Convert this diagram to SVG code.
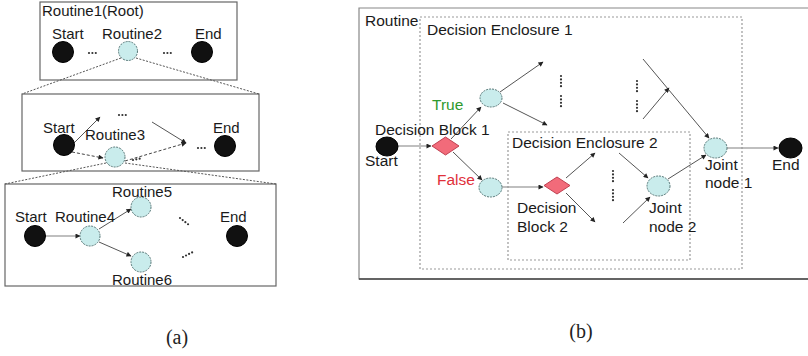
<svg xmlns="http://www.w3.org/2000/svg" width="808" height="356" viewBox="0 0 808 356">
<style>
text{font-family:"Liberation Sans",Arial,sans-serif;font-size:15px;fill:#1a1a1a}
.b text{font-size:15.5px}
.cap{font-family:"Liberation Serif","DejaVu Serif",serif;font-size:20px;fill:#222}
.frame{fill:none;stroke:#666;stroke-width:1.2}
.encl{fill:none;stroke:#999;stroke-width:1.2;stroke-dasharray:2,2}
.zoom{fill:none;stroke:#555;stroke-width:1;stroke-dasharray:2,1.5}
.blk{fill:#111;stroke:#000;stroke-width:1}
.node{fill:#c9ecec;stroke:#557777;stroke-width:1;stroke-dasharray:2,1}
.dia{fill:#f26b7a;stroke:#c04050;stroke-width:1}
.ln{fill:none;stroke:#555;stroke-width:1;marker-end:url(#ah)}
.lg{fill:none;stroke:#aaa;stroke-width:1.3;marker-end:url(#ah)}
.dl{fill:none;stroke:#444;stroke-width:1;stroke-dasharray:3,2;marker-end:url(#ah)}
.dots{fill:none;stroke:#333;stroke-width:2.2;stroke-linecap:round;stroke-dasharray:0,3.4}
</style>
<defs>
<marker id="ah" viewBox="0 0 10 10" refX="9" refY="5" markerWidth="6" markerHeight="5" markerUnits="userSpaceOnUse" orient="auto">
<path d="M0,0 L10,5 L0,10 z" fill="#222"/>
</marker>
</defs>

<!-- Panel (a) frames -->
<g id="a-frames">
<rect class="frame" x="40" y="2" width="197" height="78"/>
<rect class="frame" x="22" y="94" width="237" height="77" stroke="#888"/>
<rect class="frame" x="5" y="184" width="271" height="102"/>
<text x="42" y="16">Routine1(Root)</text>
</g>

<g id="connectors">
<!-- zoom lines -->
<line class="zoom" x1="121" y1="58" x2="22" y2="94"/>
<line class="zoom" x1="136" y1="58" x2="259" y2="94"/>
<line class="zoom" x1="106" y1="163" x2="5" y2="184"/>
<line class="zoom" x1="125" y1="163" x2="276" y2="184"/>
<!-- box 2 -->
<line class="ln" x1="72" y1="145" x2="100" y2="117"/>
<line class="ln" x1="152" y1="122" x2="186" y2="143"/>
<line class="dl" x1="72" y1="152" x2="103" y2="158"/>
<line class="dl" x1="125" y1="161" x2="186" y2="143"/>
<!-- box 3 -->
<line class="lg" x1="45" y1="236" x2="80" y2="236"/>
<line class="ln" x1="99" y1="229" x2="131" y2="209"/>
<line class="ln" x1="99" y1="242" x2="131" y2="256"/>
<!-- panel b -->
<line class="lg" x1="398" y1="146" x2="431" y2="146"/>
<line class="ln" x1="451" y1="139" x2="481" y2="107"/>
<line class="ln" x1="453" y1="152" x2="482" y2="180"/>
<line class="ln" x1="500" y1="92" x2="543" y2="62"/>
<line class="ln" x1="503" y1="103" x2="547" y2="125"/>
<line class="lg" x1="501" y1="187" x2="543" y2="187" stroke="#888"/>
<line class="ln" x1="566" y1="178" x2="595" y2="153"/>
<line class="ln" x1="566" y1="193" x2="595" y2="222"/>
<line class="ln" x1="619" y1="153" x2="648" y2="178"/>
<line class="ln" x1="623" y1="223" x2="650" y2="197"/>
<line class="ln" x1="668" y1="179" x2="706" y2="155"/>
<line class="ln" x1="643" y1="59" x2="709" y2="138"/>
<line class="ln" x1="643" y1="119" x2="669" y2="88"/>
<line class="lg" x1="727" y1="148" x2="778" y2="148"/>
</g>

<!-- box 1 nodes -->
<g id="a1-start"><circle class="blk" cx="63" cy="52" r="10.5"/><text x="52" y="39">Start</text></g>
<g id="a1-routine2"><circle class="node" cx="128" cy="51" r="9.5"/><text x="102" y="39">Routine2</text></g>
<g id="a1-end"><circle class="blk" cx="202" cy="52" r="10.5"/><text x="195" y="39">End</text></g>
<g id="a1-dots"><line class="dots" x1="89" y1="53" x2="99" y2="53" stroke-width="1.6" stroke-dasharray="0,3.5"/><line class="dots" x1="164" y1="53" x2="174" y2="53" stroke-width="1.6" stroke-dasharray="0,3.5"/></g>

<!-- box 2 nodes -->
<g id="a2-start"><circle class="blk" cx="64" cy="145" r="10.5"/><text x="43" y="133">Start</text></g>
<g id="a2-routine3"><circle class="node" cx="115" cy="157" r="10"/><text x="85" y="140">Routine3</text></g>
<g id="a2-end"><circle class="blk" cx="225" cy="146" r="10.5"/><text x="213" y="133">End</text></g>
<g id="a2-dots">
<line class="dots" x1="119" y1="115" x2="129" y2="115" stroke-width="1.6" stroke-dasharray="0,4"/>
<line class="dots" x1="133" y1="160" x2="143" y2="158" stroke-width="1.6" stroke-dasharray="0,4"/>
<line class="dots" x1="198" y1="148" x2="208" y2="148" stroke-width="2" stroke-dasharray="0,4.5"/>
</g>

<!-- box 3 nodes -->
<g id="a3-start"><circle class="blk" cx="35" cy="236" r="10.5"/><text x="15" y="222">Start</text></g>
<g id="a3-routine4"><circle class="node" cx="90" cy="236" r="10"/><text x="55" y="222">Routine4</text></g>
<g id="a3-routine5"><circle class="node" cx="141" cy="207" r="10"/><text x="112" y="197">Routine5</text></g>
<g id="a3-routine6"><circle class="node" cx="141" cy="262" r="10"/><text x="112" y="285">Routine6</text></g>
<g id="a3-end"><circle class="blk" cx="237" cy="236" r="10.5"/><text x="220" y="222">End</text></g>
<g id="a3-dots">
<line class="dots" x1="180" y1="218" x2="189" y2="225" stroke-width="1.6" stroke-dasharray="0,4.5"/>
<line class="dots" x1="183" y1="257" x2="193" y2="252" stroke-width="1.6" stroke-dasharray="0,4.5"/>
</g>

<!-- Panel (b) -->
<g class="b">
<g id="b-routine">
<path d="M812,8 H359 V279 H812" fill="none" stroke="#888" stroke-width="1.2"/>
<line x1="359" y1="279" x2="812" y2="279" stroke="#444" stroke-width="1.3"/>
<text x="365" y="26">Routine</text>
</g>
<g id="b-enclosure1"><rect class="encl" x="420" y="17" width="322" height="252"/><text x="427" y="35">Decision Enclosure 1</text></g>
<g id="b-enclosure2"><rect class="encl" x="508" y="132" width="182" height="128"/><text x="512" y="148">Decision Enclosure 2</text></g>
<g id="b-start"><ellipse class="blk" cx="387" cy="146.5" rx="11" ry="9.5"/><text x="365" y="166">Start</text></g>
<g id="b-decision1"><path class="dia" d="M445.5,137 L459,146 L445.5,155 L432,146 Z"/><text x="375" y="135">Decision Block 1</text></g>
<g id="b-true"><ellipse class="node" cx="491" cy="98" rx="11" ry="9"/><text x="432" y="110" style="fill:#2e9a2e">True</text></g>
<g id="b-false"><ellipse class="node" cx="490.5" cy="187.5" rx="11.5" ry="9.5"/><text x="437" y="185" style="fill:#e0303a">False</text></g>
<g id="b-decision2"><path class="dia" d="M557,177 L570,185.5 L557,194 L544,185.5 Z"/><text x="517" y="213">Decision</text><text x="517" y="232">Block 2</text></g>
<g id="b-joint2"><ellipse class="node" cx="658.5" cy="186" rx="11.5" ry="10"/><text x="649" y="213">Joint</text><text x="649" y="232">node 2</text></g>
<g id="b-joint1"><ellipse class="node" cx="715.5" cy="148" rx="11.5" ry="10"/><text x="705" y="170">Joint</text><text x="705" y="188">node 1</text></g>
<g id="b-end"><ellipse class="blk" cx="790.5" cy="148" rx="11.5" ry="10"/><text x="772" y="170">End</text></g>
<g id="b-dots">
<line class="dots" x1="561" y1="76" x2="561" y2="87"/>
<line class="dots" x1="561" y1="96" x2="561" y2="108"/>
<line class="dots" x1="637" y1="81" x2="637" y2="92"/>
<line class="dots" x1="637" y1="101" x2="637" y2="112"/>
<line class="dots" x1="613" y1="171" x2="613" y2="182"/>
<line class="dots" x1="613" y1="190" x2="613" y2="201"/>
</g>
</g>

<text class="cap" x="177" y="344" text-anchor="middle">(a)</text>
<text class="cap" x="581" y="338" text-anchor="middle">(b)</text>
</svg>
